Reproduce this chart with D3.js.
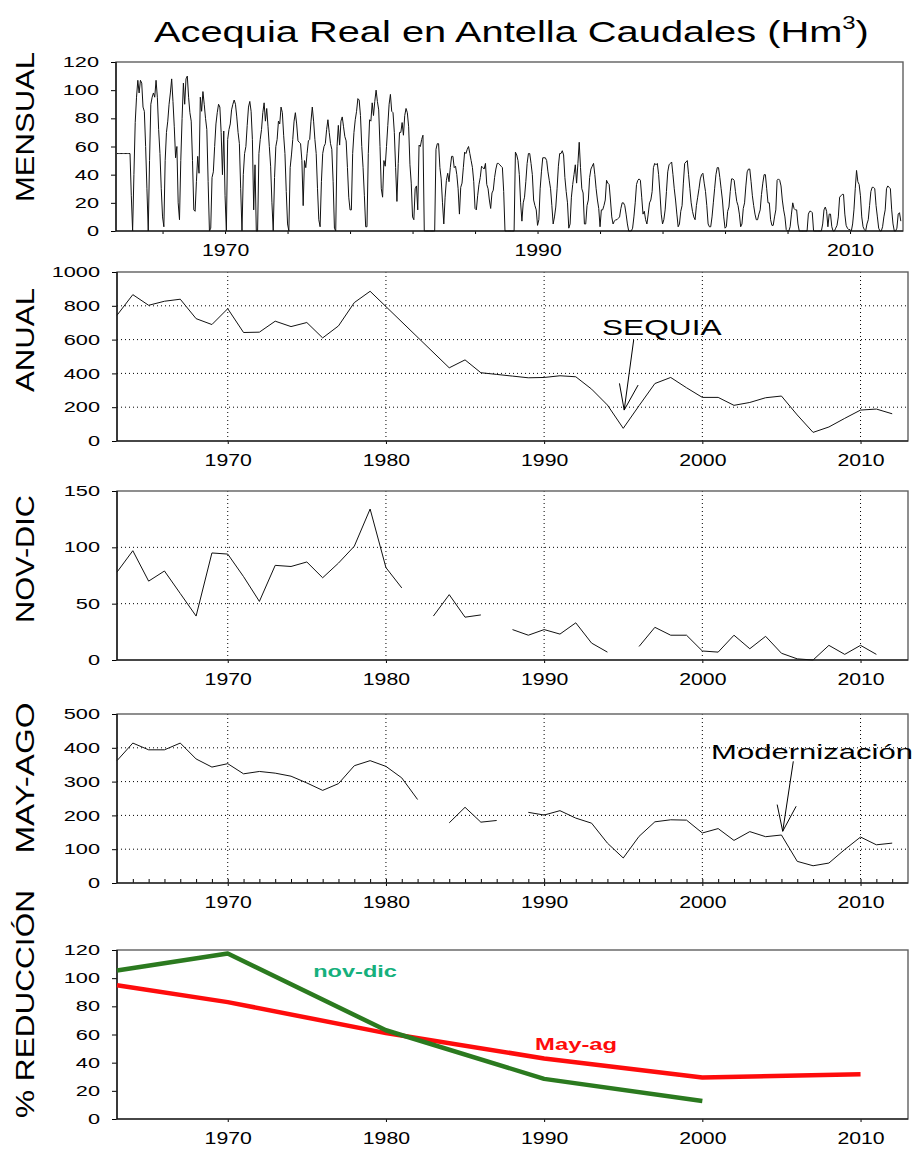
<!DOCTYPE html>
<html><head><meta charset="utf-8">
<script src="https://cdn.jsdelivr.net/npm/d3@7"></script>
<style>
html,body{margin:0;padding:0;background:#fff;}
svg{display:block;}
</style></head><body>
<svg id="chart" width="913" height="1153"></svg>
<script>
// ---------------- DATA ----------------
const titleText = "Acequia Real en Antella Caudales (Hm";
const mensualStartYear = 1963; // month i plotted at startYear + (i+1)/12
const mensual1960s = [
 55,55,55,55,55,55,55,55,55,55,55,25,
 0,40,77,95,107,98,107,105,88,85,60,30,
 0,50,90,95,98,95,107,95,72,55,30,10,
 3,50,70,78,90,98,108,92,74,52,60,20,
 8,50,80,105,90,108,110,95,84,78,50,15,
 14,35,53,41,95,85,99,90,80,72,35,0,
 2,38,42,60,76,84,90,88,70,40,71,25
];
const mensual1970s = [
 0,65,72,76,86,90,93,90,81,70,62,30,
 0,40,55,60,75,88,92,85,65,15,47,0,
 0,55,65,72,84,91,78,87,74,60,46,20,
 0,38,60,65,78,76,88,84,68,55,28,5,
 0,45,54,65,78,84,76,64,63,62,50,18,
 50,45,55,64,65,78,88,78,65,55,30,8,
 3,35,55,60,62,72,79,70,62,58,35,2,
 0,60,75,61,78,81,74,67,64,45,24,15,
 15,55,70,79,85,94,93,82,60,45,25,3,
 3,55,79,78,91,82,92,100,92,86,60,30
];
const mensual1980s = [
 24,50,46,60,75,90,97,85,84,70,45,21,
 48,70,70,77,68,82,87,84,74,47,34,10,
 8,30,32,15,61,60,65,68,0,0,0,0,
 0,0,0,0,0,58,62,62,45,37,20,5,
 24,36,41,35,45,53,53,45,46,40,30,12,
 31,34,45,56,55,58,60,55,50,45,35,16,
 15,25,33,38,46,45,44,48,33,30,22,16,
 27,29,38,44,48,48,47,46,45,28,0,0,
 0,0,0,0,0,0,56,54,50,40,20,7,
 20,24,35,48,55,55,48,40,22,18,15,4
];
const mensual1990s = [
 8,30,42,52,52,52,50,42,36,30,18,5,
 10,17,30,46,55,55,57,54,38,28,20,2,
 5,24,33,40,47,34,48,63,45,30,27,5,
 5,18,22,38,44,46,48,40,30,22,16,3,
 15,15,18,22,36,34,33,22,10,5,7,8,
 8,9,10,16,20,20,18,12,5,0,0,0,
 2,10,20,33,36,37,36,24,12,14,8,5,
 12,20,22,28,45,48,47,48,40,27,12,5,
 8,15,28,42,47,48,49,40,30,22,12,3,
 5,14,18,34,48,49,50,40,30,20,14,10
];
const mensual2000s = [
 8,18,24,30,37,40,41,34,28,18,5,3,
 3,10,20,30,40,45,45,38,30,22,10,2,
 3,14,17,28,37,37,36,28,21,18,12,3,
 5,16,20,32,42,44,44,35,25,18,12,8,
 8,12,15,26,34,40,40,30,20,20,8,4,
 4,10,15,36,37,36,32,22,15,10,1,0,
 0,3,12,20,16,15,15,5,0,0,0,0,
 0,0,0,12,14,14,13,0,0,0,0,0,
 0,0,5,15,17,14,3,12,12,3,0,0,
 2,4,10,24,25,26,26,12,4,2,1,1
];
const mensual2010s = [
 0,5,15,30,43,35,33,25,10,3,1,0,
 5,8,18,28,31,31,30,18,10,2,0,0,
 3,10,15,30,32,31,30,15,5,0,0,2,
 12,13,7
];

const anualYears  = [1963,1964,1965,1966,1967,1968,1969,1970,1971,1972,1973,1974,1975,1976,1977,1978,1979,
                     1984,1985,1986,1987,1988,1989,1990,1991,1992,1993,1994,1995,1996,1997,1998,1999,
                     2000,2001,2002,2003,2004,2005,2006,2007,2008,2009,2010,2011,2012];
const anualValues = [744,866,803,827,839,724,689,783,642,644,709,677,701,610,681,819,886,
                     433,480,404,394,384,374,376,386,380,307,213,75,209,340,376,315,
                     258,258,211,228,256,266,154,51,83,134,183,189,161];

const novdicStartYear = 1963;
const novdicValues = [78,97,70,79,59,39,95,94,74,52,84,83,87,73,86,101,134,82,64,null,
                      39,58,38,40,null,27,22,27,23,33,15,7,null,12,29,22,22,
                      8,7,22,10,21,6,1,0,13,5,13,5];

const mayagoStartYear = 1963;
const mayagoValues = [362,414,394,394,414,367,343,353,323,330,325,316,296,274,294,347,362,345,311,247,null,
                      178,224,180,185,null,209,201,214,192,177,118,74,138,181,187,186,
                      148,161,126,152,137,142,64,51,59,99,136,113,118];

const reduccionYears   = [1963,1970,1980,1990,2000,2010];
const reduccionNovDic  = [105.5,117.5,63,28.5,12.8,null];
const reduccionMayAg   = [95,83,61,43,29.5,31.8];

const mensualYTicks   = [0,20,40,60,80,100,120];
const anualYTicks     = [0,200,400,600,800,1000];
const novdicYTicks    = [0,50,100,150];
const mayagoYTicks    = [0,100,200,300,400,500];
const reduccionYTicks = [0,20,40,60,80,100,120];
const mensualXTicks   = [1966,1970,1974,1978,1982,1986,1990,1994,1998,2002,2006,2010];
const mensualXLabels  = [1970,1990,2010];
const decadeLabels    = [1970,1980,1990,2000,2010];

// ---------------- DRAWING ----------------
const FONT = "'Liberation Sans', Arial, Helvetica, sans-serif";
const svg = d3.select("#chart");
svg.append("rect").attr("width",913).attr("height",1153).attr("fill","#fff");

function hstretch(sel, k) {
  sel.each(function () {
    const t = d3.select(this);
    const x = +t.attr("x") || 0;
    t.attr("transform", `translate(${x},0) scale(${k},1) translate(${-x},0)`);
  });
}
function fitWidth(sel, x0, width) {
  const w = sel.node().getBBox().width;
  const k = width / w;
  sel.attr("transform", `translate(${x0},0) scale(${k},1) translate(${-x0},0)`);
}
function styleAxis(ax, size, k) {
  ax.select(".domain").remove();
  ax.attr("font-family", FONT).attr("font-size", size);
  ax.selectAll(".tick line").attr("stroke", "#000");
  ax.selectAll(".tick text").attr("fill", "#000");
  hstretch(ax.selectAll(".tick text"), k);
}

function drawPanel(cfg) {
  const x = d3.scaleLinear().domain(cfg.xDomain).range([cfg.left, cfg.right]);
  const y = d3.scaleLinear().domain(cfg.yDomain).range([cfg.bottom, cfg.top]);
  const g = svg.append("g");
  if (cfg.grid) {
    const gy = cfg.yTicks.slice(1, -1);
    g.append("g").selectAll("line").data(gy).join("line")
      .attr("x1", cfg.left).attr("x2", cfg.right)
      .attr("y1", d => y(d)).attr("y2", d => y(d))
      .attr("stroke", "#000").attr("stroke-width", 1).attr("stroke-dasharray", "1,3");
    g.append("g").selectAll("line").data(cfg.xLabels).join("line")
      .attr("x1", d => x(d)).attr("x2", d => x(d))
      .attr("y1", cfg.top).attr("y2", cfg.bottom)
      .attr("stroke", "#000").attr("stroke-width", 1).attr("stroke-dasharray", "1,3");
  }
  const ya = g.append("g").attr("transform", `translate(${cfg.left},0)`)
    .call(d3.axisLeft(y).tickValues(cfg.yTicks).tickFormat(d3.format("d"))
      .tickSize(5).tickPadding(12).tickSizeOuter(0));
  styleAxis(ya, 14.5, 1.5);
  const xa = g.append("g").attr("transform", `translate(0,${cfg.bottom})`)
    .call(d3.axisBottom(x).tickValues(cfg.xTicks)
      .tickFormat(d => cfg.xLabels.includes(d) ? String(d) : "")
      .tickSize(3).tickPadding(11).tickSizeOuter(0));
  styleAxis(xa, 16, 1.33);
  if (cfg.minorTicks) {
    const ma = g.append("g").attr("transform", `translate(0,${cfg.bottom})`)
      .call(d3.axisBottom(x).tickValues(cfg.minorTicks).tickFormat("").tickSize(-4).tickSizeOuter(0));
    ma.select(".domain").remove();
    ma.selectAll(".tick line").attr("stroke", "#000");
  }
  g.append("rect").attr("x", cfg.left).attr("y", cfg.top)
    .attr("width", cfg.right - cfg.left).attr("height", cfg.bottom - cfg.top)
    .attr("fill", "none").attr("stroke", "#606060").attr("stroke-width", 1.4);
  g.append("line").attr("x1", cfg.left).attr("x2", cfg.left).attr("y1", cfg.top).attr("y2", cfg.bottom)
    .attr("stroke", "#000").attr("stroke-width", 1.2);
  g.append("line").attr("x1", cfg.left).attr("x2", cfg.right).attr("y1", cfg.bottom).attr("y2", cfg.bottom)
    .attr("stroke", "#000").attr("stroke-width", 1.2);
  svg.append("text")
    .attr("transform", `translate(34,${cfg.labelCenter}) rotate(-90)`)
    .attr("text-anchor", "middle").attr("font-family", FONT).attr("font-size", 25)
    .attr("fill", "#000")
    .attr("textLength", cfg.labelLength).attr("lengthAdjust", "spacingAndGlyphs")
    .text(cfg.label);
  return { x, y, g };
}

// Title
const title = svg.append("text").attr("x", 154).attr("y", 42)
  .attr("font-family", FONT).attr("font-size", 30).attr("fill", "#000");
title.append("tspan").text(titleText);
title.append("tspan").attr("font-size", 18).attr("dy", -13).text("3");
title.append("tspan").attr("dy", 13).text(")");
fitWidth(title, 154, 715);

// Panel 1: MENSUAL
const p1 = drawPanel({
  left: 116, right: 903, top: 62, bottom: 231,
  xDomain: [1963.02, 2013.39], yDomain: [0, 120],
  yTicks: mensualYTicks, xTicks: mensualXTicks, xLabels: mensualXLabels,
  grid: false, label: "MENSUAL", labelCenter: 127, labelLength: 150
});
const mensual = [].concat(mensual1960s, mensual1970s, mensual1980s, mensual1990s, mensual2000s, mensual2010s)
  .map((v, i) => ({ t: mensualStartYear + (i + 1) / 12, v }));
p1.g.append("path").datum(mensual)
  .attr("d", d3.line().x(d => p1.x(d.t)).y(d => p1.y(d.v)))
  .attr("fill", "none").attr("stroke", "#111").attr("stroke-width", 1).attr("stroke-linejoin", "round");

// Panel 2: ANUAL
const p2 = drawPanel({
  left: 117, right: 908, top: 272, bottom: 441,
  xDomain: [1963, 2013], yDomain: [0, 1000],
  yTicks: anualYTicks, xTicks: decadeLabels, xLabels: decadeLabels,
  grid: true, label: "ANUAL", labelCenter: 340, labelLength: 104
});
p2.g.append("path").datum(anualYears.map((t, i) => ({ t, v: anualValues[i] })))
  .attr("d", d3.line().x(d => p2.x(d.t)).y(d => p2.y(d.v)))
  .attr("fill", "none").attr("stroke", "#111").attr("stroke-width", 1);
const sq = { text: [1993.66, 627], from: [1995.66, 598], tip: [1995.06, 183], hl: [1994.76, 341], hr: [1995.94, 331] };
const sqt = p2.g.append("text").attr("x", p2.x(sq.text[0])).attr("y", p2.y(sq.text[1]))
  .attr("font-family", FONT).attr("font-size", 22).attr("fill", "#000").text("SEQUIA");
fitWidth(sqt, p2.x(sq.text[0]), 120);
[[sq.from, sq.tip], [sq.hl, sq.tip], [sq.hr, sq.tip]].forEach(([a, b]) => {
  p2.g.append("line").attr("x1", p2.x(a[0])).attr("y1", p2.y(a[1])).attr("x2", p2.x(b[0])).attr("y2", p2.y(b[1]))
    .attr("stroke", "#000").attr("stroke-width", 1);
});

// Panel 3: NOV-DIC
const p3 = drawPanel({
  left: 117, right: 908, top: 491, bottom: 660,
  xDomain: [1963, 2013], yDomain: [0, 150],
  yTicks: novdicYTicks, xTicks: decadeLabels, xLabels: decadeLabels,
  grid: true, label: "NOV-DIC", labelCenter: 559, labelLength: 128
});
p3.g.append("path").datum(novdicValues.map((v, i) => ({ t: novdicStartYear + i, v })))
  .attr("d", d3.line().defined(d => d.v !== null).x(d => p3.x(d.t)).y(d => p3.y(d.v)))
  .attr("fill", "none").attr("stroke", "#111").attr("stroke-width", 1);

// Panel 4: MAY-AGO
const p4 = drawPanel({
  left: 117, right: 908, top: 714, bottom: 883,
  xDomain: [1963, 2013], yDomain: [0, 500],
  yTicks: mayagoYTicks, xTicks: decadeLabels, xLabels: decadeLabels,
  minorTicks: d3.range(1964, 2013),
  grid: true, label: "MAY-AGO", labelCenter: 778, labelLength: 151
});
p4.g.append("path").datum(mayagoValues.map((v, i) => ({ t: mayagoStartYear + i, v })))
  .attr("d", d3.line().defined(d => d.v !== null).x(d => p4.x(d.t)).y(d => p4.y(d.v)))
  .attr("fill", "none").attr("stroke", "#111").attr("stroke-width", 1);
const md = { text: [2000.55, 368], from: [2005.75, 360], tip: [2005.08, 153], hl: [2004.73, 232], hr: [2005.93, 227] };
const mdt = p4.g.append("text").attr("x", p4.x(md.text[0])).attr("y", p4.y(md.text[1]))
  .attr("font-family", FONT).attr("font-size", 20).attr("fill", "#000").text("Modernización");
fitWidth(mdt, p4.x(md.text[0]), 202);
[[md.from, md.tip], [md.hl, md.tip], [md.hr, md.tip]].forEach(([a, b]) => {
  p4.g.append("line").attr("x1", p4.x(a[0])).attr("y1", p4.y(a[1])).attr("x2", p4.x(b[0])).attr("y2", p4.y(b[1]))
    .attr("stroke", "#000").attr("stroke-width", 1);
});

// Panel 5: % REDUCCIÓN
const p5 = drawPanel({
  left: 117, right: 908, top: 950, bottom: 1119,
  xDomain: [1963, 2013], yDomain: [0, 120],
  yTicks: reduccionYTicks, xTicks: decadeLabels, xLabels: decadeLabels,
  grid: false, label: "% REDUCCIÓN", labelCenter: 1004, labelLength: 228
});
const redLine = d3.line().defined(d => d.v !== null).x(d => p5.x(d.t)).y(d => p5.y(d.v));
p5.g.append("path").datum(reduccionYears.map((t, i) => ({ t, v: reduccionMayAg[i] })))
  .attr("d", redLine).attr("fill", "none").attr("stroke", "#fe0c0c").attr("stroke-width", 4.5)
  .attr("stroke-linejoin", "round");
p5.g.append("path").datum(reduccionYears.map((t, i) => ({ t, v: reduccionNovDic[i] })))
  .attr("d", redLine).attr("fill", "none").attr("stroke", "#2b7a1f").attr("stroke-width", 4.5)
  .attr("stroke-linejoin", "round");
const nd = p5.g.append("text").attr("x", p5.x(1975.4)).attr("y", p5.y(100.8))
  .attr("font-family", FONT).attr("font-size", 16).attr("font-weight", "bold").attr("fill", "#16b07c").text("nov-dic");
fitWidth(nd, p5.x(1975.4), 84);
const ma = p5.g.append("text").attr("x", p5.x(1989.43)).attr("y", p5.y(49))
  .attr("font-family", FONT).attr("font-size", 16).attr("font-weight", "bold").attr("fill", "#fe0c0c").text("May-ag");
fitWidth(ma, p5.x(1989.43), 82);
</script>
</body></html>
